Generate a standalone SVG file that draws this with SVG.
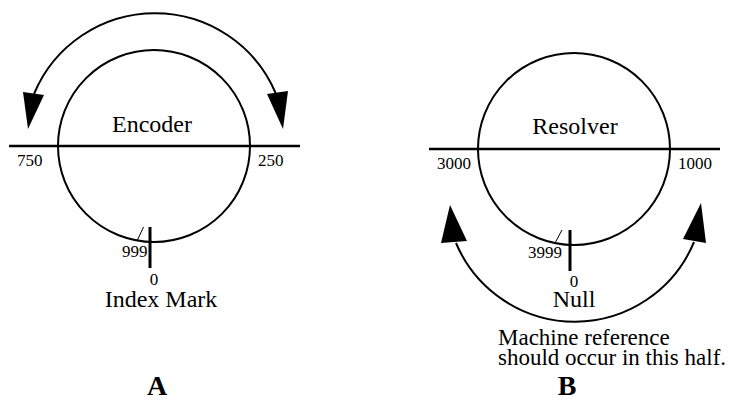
<svg xmlns="http://www.w3.org/2000/svg" width="734" height="400" viewBox="0 0 734 400">
<style>
.ln{fill:none;stroke:#000;stroke-width:2}
.ax{fill:none;stroke:#000;stroke-width:2.5}
.tk{fill:none;stroke:#000;stroke-width:3}
.sl{fill:none;stroke:#000;stroke-width:1}
.ah{fill:#000;stroke:none}
text{font-family:"Liberation Serif","Times New Roman",serif;fill:#000}
.big{font-size:24px}
.note{font-size:23px}
.num{font-size:17px}
.lbl{font-size:28px;font-weight:bold}
</style>
<rect width="734" height="400" fill="#fff"/>
<g id="encoder">
<circle class="ln" cx="154" cy="146" r="96"/>
<line class="ax" x1="9" y1="146" x2="300" y2="146"/>
<line class="tk" x1="150" y1="227" x2="150" y2="268"/>
<line class="sl" x1="143.5" y1="227" x2="137" y2="241"/>
<text class="big" x="152" y="132" text-anchor="middle">Encoder</text>
<text class="num" x="17" y="166">750</text>
<text class="num" x="258" y="166">250</text>
<text class="num" x="122" y="257">999</text>
<text class="num" x="154" y="285" text-anchor="middle">0</text>
<text class="big" x="161" y="307" text-anchor="middle">Index Mark</text>
<text class="lbl" x="157" y="395" text-anchor="middle">A</text>
</g>
<g id="resolver">
<circle class="ln" cx="574" cy="149" r="96"/>
<line class="ax" x1="429" y1="149" x2="720" y2="149"/>
<line class="tk" x1="570" y1="230" x2="570" y2="271"/>
<line class="sl" x1="562" y1="230" x2="555" y2="243"/>
<text class="big" x="575" y="134" text-anchor="middle">Resolver</text>
<text class="num" x="437" y="169">3000</text>
<text class="num" x="678" y="169">1000</text>
<text class="num" x="528" y="258">3999</text>
<text class="num" x="574" y="287" text-anchor="middle">0</text>
<text class="big" x="574" y="307" text-anchor="middle">Null</text>
<text class="note" x="498" y="345">Machine reference</text>
<text class="note" x="498" y="365">should occur in this half.</text>
<text class="lbl" x="567" y="395" text-anchor="middle">B</text>
</g>
<g id="connectors">
<path class="ln" d="M34 94 A131 131 0 0 1 276 94"/>
<polygon class="ah" points="23,92 44,95 28,129"/>
<polygon class="ah" points="267,94 288,91 283,129"/>
<path class="ln" d="M456 243 A129 129 0 0 0 694 242"/>
<polygon class="ah" points="441,243 467,241 450,205"/>
<polygon class="ah" points="683,239 706,243 701,203"/>
</g>
</svg>
